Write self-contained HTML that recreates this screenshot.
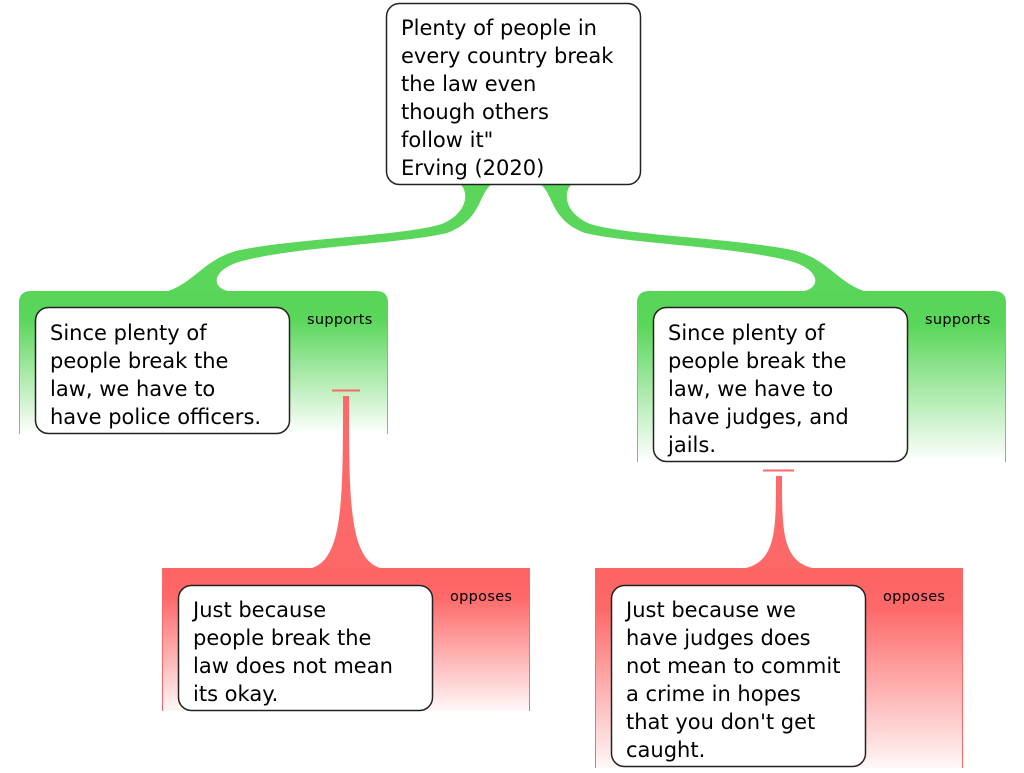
<!DOCTYPE html>
<html><head><meta charset="utf-8"><style>
body{margin:0;background:#fff;}
svg text{font-family:"DejaVu Sans","Liberation Sans",sans-serif;}
</style></head><body>
<svg width="1024" height="768" viewBox="0 0 1024 768" xmlns="http://www.w3.org/2000/svg">
<defs>
<linearGradient id="g" x1="0" y1="0" x2="0" y2="1">
<stop offset="0" stop-color="#58d558"/><stop offset="0.2" stop-color="#5ad65a"/><stop offset="1" stop-color="#5ad65a" stop-opacity="0"/>
</linearGradient>
<linearGradient id="r" x1="0" y1="0" x2="0" y2="1">
<stop offset="0" stop-color="#fd6363"/><stop offset="0.2" stop-color="#fd6868"/><stop offset="1" stop-color="#fd6868" stop-opacity="0.05"/>
</linearGradient>
<path id="c" d="M460,184 C468,190 470,212 442,224 C402,236 300,238 240,250 C205,258 195,282 168,291 L228,291 C212,288 210,270 242,261 C300,246 400,244 447,233 C482,220 478,194 492,184 Z"/>
</defs>
<use href="#c" fill="#5ad65a"/>
<use href="#c" fill="#5ad65a" transform="translate(1032,0) scale(-1,1)"/>
<!-- green regions -->
<path d="M19,434 L19,303 Q19,291 31,291 L376,291 Q388,291 388,303 L388,434 Z" fill="url(#g)"/>
<line x1="19.5" y1="300" x2="19.5" y2="434" stroke="#5ad65a"/><line x1="387.5" y1="300" x2="387.5" y2="434" stroke="#5ad65a"/>
<path d="M637,462 L637,303 Q637,291 649,291 L994,291 Q1006,291 1006,303 L1006,462 Z" fill="url(#g)"/>
<line x1="637.5" y1="300" x2="637.5" y2="462" stroke="#5ad65a"/><line x1="1005.5" y1="300" x2="1005.5" y2="462" stroke="#5ad65a"/>
<!-- red regions -->
<rect x="162" y="568" width="368" height="143" fill="url(#r)"/>
<line x1="162.5" y1="568" x2="162.5" y2="711" stroke="#fd6868"/><line x1="529.5" y1="568" x2="529.5" y2="711" stroke="#fd6868"/>
<rect x="595" y="568" width="368" height="200" fill="url(#r)"/>
<line x1="595.5" y1="568" x2="595.5" y2="768" stroke="#fd6868"/><line x1="962.5" y1="568" x2="962.5" y2="768" stroke="#fd6868"/>
<!-- red connectors -->
<line x1="332" y1="390.5" x2="360" y2="390.5" stroke="#fd6868" stroke-width="2"/>
<path d="M343,396 L349,396 C349,500 349,558 380,568 L312,568 C343,558 343,500 343,396 Z" fill="#fd6868"/>
<line x1="763" y1="470.5" x2="794" y2="470.5" stroke="#fd6868" stroke-width="2"/>
<path d="M776,476 L782,476 C782,530 782,560 812,568 L746,568 C776,560 776,530 776,476 Z" fill="#fd6868"/>
<!-- boxes -->
<g fill="#fff" stroke="#222" stroke-width="1.5">
<rect x="386.5" y="3.5" width="254" height="181" rx="13"/>
<rect x="35.5" y="307.5" width="254" height="126" rx="13"/>
<rect x="653.5" y="307.5" width="254" height="154" rx="13"/>
<rect x="178.5" y="585.5" width="254" height="125" rx="13"/>
<rect x="611.5" y="585.5" width="254" height="181" rx="13"/>
</g>
<g font-size="21" fill="#000">
<text x="401" y="35">Plenty of people in</text><text x="401" y="63">every country break</text><text x="401" y="91">the law even</text><text x="401" y="119">though others</text><text x="401" y="147">follow it"</text><text x="401" y="175">Erving (2020)</text>
<text x="50" y="340">Since plenty of</text><text x="50" y="368">people break the</text><text x="50" y="396">law, we have to</text><text x="50" y="424">have police officers.</text>
<text x="668" y="340">Since plenty of</text><text x="668" y="368">people break the</text><text x="668" y="396">law, we have to</text><text x="668" y="424">have judges, and</text><text x="668" y="452">jails.</text>
<text x="193" y="617">Just because</text><text x="193" y="645">people break the</text><text x="193" y="673">law does not mean</text><text x="193" y="701">its okay.</text>
<text x="626" y="617">Just because we</text><text x="626" y="645">have judges does</text><text x="626" y="673">not mean to commit</text><text x="626" y="701">a crime in hopes</text><text x="626" y="729">that you don't get</text><text x="626" y="757">caught.</text>
</g>
<g font-size="14.5" fill="#000" letter-spacing="0.3">
<text x="307" y="324">supports</text><text x="925" y="324">supports</text>
<text x="450" y="601">opposes</text><text x="883" y="601">opposes</text>
</g>
</svg>
</body></html>
